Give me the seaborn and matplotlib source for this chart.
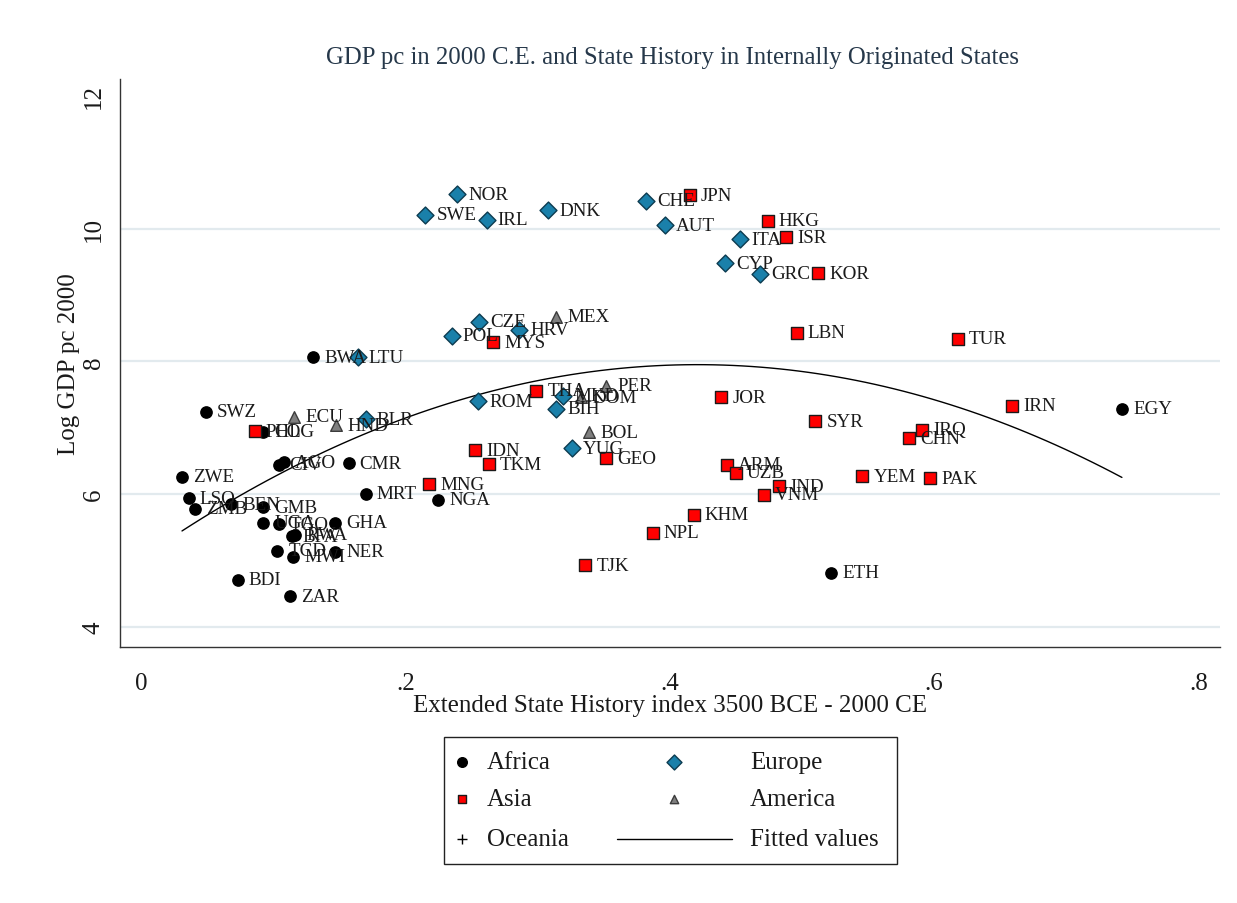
import numpy as np
import pandas as pd
import matplotlib
matplotlib.use("Agg")
import matplotlib.pyplot as plt
import seaborn as sns
from matplotlib.lines import Line2D
from matplotlib.patches import Rectangle

# Country codes, continent, state history index and log GDP per capita (2000)
countries = [
    "SWZ", "COG", "ZWE", "LSO", "ZMB", "BEN", "GMB", "CIV", "AGO", "CMR",
    "MRT", "GHA", "UGA", "TGO", "BFA", "RWA", "TCD", "MWI", "NER", "BDI",
    "ZAR", "NGA", "BWA", "ETH", "EGY",
    "LTU", "BLR", "NOR", "SWE", "IRL", "DNK", "CHE", "AUT", "CZE", "POL",
    "HRV", "ITA", "CYP", "GRC", "ROM", "MKD", "BIH", "YUG",
    "JPN", "HKG", "ISR", "KOR", "LBN", "TUR", "MYS", "THA", "IDN", "TKM",
    "MNG", "GEO", "NPL", "TJK", "KHM", "JOR", "SYR", "ARM", "UZB", "IND",
    "VNM", "YEM", "PAK", "IRQ", "CHN", "IRN", "PHL",
    "ECU", "HND", "MEX", "PER", "DOM", "BOL",
]
region = (["Africa"] * 25 + ["Europe"] * 18 + ["Asia"] * 27 + ["America"] * 6)
statehist = [
    0.049, 0.092, 0.031, 0.036, 0.041, 0.068, 0.0925, 0.104, 0.108, 0.157,
    0.170, 0.147, 0.0925, 0.104, 0.114, 0.1165, 0.103, 0.115, 0.147, 0.073,
    0.113, 0.225, 0.130, 0.522, 0.742,
    0.164, 0.170, 0.239, 0.215, 0.2615, 0.308, 0.382, 0.396, 0.256, 0.235,
    0.286, 0.453, 0.442, 0.468, 0.255, 0.3195, 0.314, 0.326,
    0.415, 0.474, 0.488, 0.512, 0.496, 0.618, 0.2665, 0.299, 0.253, 0.263,
    0.218, 0.352, 0.387, 0.336, 0.418, 0.439, 0.510, 0.443, 0.450, 0.4826,
    0.471, 0.5456, 0.597, 0.591, 0.581, 0.659, 0.086,
    0.116, 0.1475, 0.314, 0.352, 0.333, 0.339,
]
loggdp = [
    7.24, 6.94, 6.26, 5.94, 5.78, 5.85, 5.80, 6.44, 6.48, 6.47,
    6.01, 5.57, 5.57, 5.55, 5.37, 5.39, 5.15, 5.06, 5.13, 4.71,
    4.46, 5.92, 8.06, 4.82, 7.29,
    8.06, 7.13, 10.52, 10.21, 10.13, 10.28, 10.42, 10.05, 8.60, 8.39,
    8.48, 9.84, 9.48, 9.32, 7.40, 7.48, 7.29, 6.69,
    10.50, 10.12, 9.87, 9.33, 8.43, 8.34, 8.29, 7.56, 6.66, 6.45,
    6.15, 6.54, 5.42, 4.93, 5.69, 7.46, 7.10, 6.44, 6.32, 6.12,
    5.99, 6.27, 6.24, 6.97, 6.84, 7.33, 6.95,
    7.17, 7.04, 8.67, 7.63, 7.46, 6.93,
]
legend_order = ["Africa", "Asia", "Oceania", "Europe", "America"]

df = pd.DataFrame({"code": countries, "region": region,
                   "x": statehist, "y": loggdp})

styles = {
    "Africa":  dict(marker="o", facecolor="black",   edgecolor="black",   s=66),
    "Asia":    dict(marker="s", facecolor="#ff0000", edgecolor="#1a1a1a", s=78),
    "Europe":  dict(marker="D", facecolor="#1a80aa", edgecolor="#0c3b50", s=74),
    "America": dict(marker="^", facecolor="#7f7f7f", edgecolor="#3c3c3c", s=70),
    "Oceania": dict(marker="+", facecolor="black",   edgecolor="black",   s=60),
}

sns.set_theme(style="white")
plt.rcParams["font.family"] = ["Liberation Serif", "DejaVu Serif"]
text_color = "#1a1a1a"

W, H = 1237, 904
fig = plt.figure(figsize=(W / 100, H / 100), dpi=100)
fig.patch.set_facecolor("white")
ax = fig.add_axes([120 / W, 1 - 648 / H, (1220 - 120) / W, (648 - 80) / H])

# Quadratic fit over all observations
sns.regplot(data=df, x="x", y="y", order=2, scatter=False, ci=None,
            truncate=True, ax=ax,
            line_kws=dict(color="black", lw=1.0, zorder=2))

for reg in ["Africa", "Europe", "Asia", "America"]:
    st = styles[reg]
    sub = df[df["region"] == reg]
    sns.scatterplot(data=sub, x="x", y="y", marker=st["marker"],
                    color=st["facecolor"], edgecolor=st["edgecolor"],
                    s=st["s"], linewidth=1.0, ax=ax, zorder=3, legend=False)

for _, r in df.iterrows():
    ax.annotate(r["code"], (r["x"], r["y"]), xytext=(8, 0),
                textcoords="offset points", ha="left", va="center",
                fontsize=13.7, color=text_color, zorder=4)

ax.set_xlim(-0.0159, 0.8162)
ax.set_ylim(3.699, 12.253)
ax.set_xticks([0, 0.2, 0.4, 0.6, 0.8])
ax.set_xticklabels(["0", ".2", ".4", ".6", ".8"])
ax.set_yticks([4, 6, 8, 10, 12])
ax.set_yticklabels(["4", "6", "8", "10", "12"], rotation=90, va="center")

ax.yaxis.grid(True, color="#e2eaee", lw=1.6, zorder=0)
ax.xaxis.grid(False)
ax.get_ygridlines()[-1].set_visible(False)
ax.set_axisbelow(True)

for side in ["top", "right"]:
    ax.spines[side].set_visible(False)
for side in ["left", "bottom"]:
    ax.spines[side].set_color("#333333")
    ax.spines[side].set_linewidth(1.0)

ax.tick_params(axis="both", direction="out", length=9, width=1.0,
               color="#333333", labelsize=18, labelcolor=text_color)
ax.tick_params(axis="x", pad=9)
ax.tick_params(axis="y", pad=2)

ax.set_xlabel("Extended State History index 3500 BCE - 2000 CE",
              fontsize=18, color=text_color, labelpad=0)
ax.set_ylabel("Log GDP pc 2000", fontsize=18, color=text_color, labelpad=2)

fig.text(673 / W, 1 - 58 / H,
         "GDP pc in 2000 C.E. and State History in Internally Originated States",
         ha="center", va="center", fontsize=17.8, color="#26384a")

# Legend panel
lax = fig.add_axes([443 / W, 1 - 865 / H, (897 - 443) / W, (865 - 737) / H])
lax.set_xlim(0, 454)
lax.set_ylim(128, 0)
lax.axis("off")
lax.add_patch(Rectangle((0.5, 0.5), 453, 127, fill=False,
                        edgecolor="#222222", lw=1.0, clip_on=False))
legend_pos = {
    "Africa": (19, 26), "Asia": (19, 63), "Oceania": (19, 103),
    "Europe": (231, 26), "America": (231, 63),
}
legend_sizes = {"Africa": 48, "Asia": 40, "Oceania": 60,
                "Europe": 58, "America": 36}
for reg in legend_order:
    st = styles[reg]
    mx, my = legend_pos[reg]
    lax.scatter([mx], [my], marker=st["marker"], s=legend_sizes[reg],
                c=st["facecolor"] if reg != "Oceania" else "black",
                edgecolors=st["edgecolor"] if reg != "Oceania" else None,
                linewidths=1.0, clip_on=False)
    tx = mx + 25 if mx < 100 else 307
    lax.text(tx, my, reg, ha="left", va="center", fontsize=18,
             color=text_color)
lax.add_line(Line2D([174, 289], [103, 103], color="black", lw=1.0))
lax.text(307, 103, "Fitted values", ha="left", va="center", fontsize=18,
         color=text_color)

fig.savefig("out.png", dpi=100, facecolor="white")
